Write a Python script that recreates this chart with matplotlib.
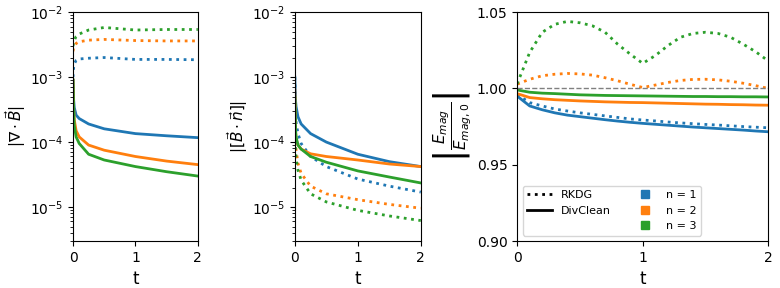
import matplotlib
matplotlib.use("Agg")
import matplotlib.pyplot as plt
from matplotlib.lines import Line2D

# time samples
t_log = [0.0, 0.01, 0.02, 0.05, 0.1, 0.25, 0.5, 1.0, 1.5, 2.0]
t_e = [0.0, 0.1, 0.2, 0.3, 0.4, 0.5, 0.6, 0.7, 0.8, 0.9, 1.0,
       1.1, 1.2, 1.3, 1.4, 1.5, 1.6, 1.7, 1.8, 1.9, 2.0]

# |div B|
div_rkdg = [
    [1.0e-3, 1.4e-3, 1.6e-3, 1.8e-3, 1.9e-3, 1.95e-3, 2.0e-3, 1.87e-3, 1.87e-3, 1.85e-3],
    [2.5e-3, 2.8e-3, 3.0e-3, 3.3e-3, 3.5e-3, 3.7e-3, 3.8e-3, 3.65e-3, 3.6e-3, 3.6e-3],
    [3.0e-3, 3.4e-3, 3.7e-3, 4.2e-3, 4.6e-3, 5.3e-3, 5.8e-3, 5.3e-3, 5.4e-3, 5.4e-3],
]
div_clean = [
    [9e-4, 4.5e-4, 3.4e-4, 2.6e-4, 2.3e-4, 1.9e-4, 1.6e-4, 1.35e-4, 1.25e-4, 1.17e-4],
    [9e-4, 3.5e-4, 2.2e-4, 1.5e-4, 1.2e-4, 9e-5, 7.5e-5, 6e-5, 5.1e-5, 4.5e-5],
    [9e-4, 3e-4, 1.8e-4, 1.2e-4, 9.5e-5, 6.5e-5, 5.3e-5, 4.2e-5, 3.5e-5, 3.0e-5],
]

# |[B.n]|
jump_rkdg = [
    [1.0e-3, 3e-4, 2e-4, 1.35e-4, 9.5e-5, 6.0e-5, 4.2e-5, 2.7e-5, 2.1e-5, 1.7e-5],
    [5e-4, 1.1e-4, 7.5e-5, 4.7e-5, 3.3e-5, 2.1e-5, 1.6e-5, 1.3e-5, 1.1e-5, 9.6e-6],
    [4e-4, 8e-5, 5.5e-5, 3.7e-5, 2.6e-5, 1.6e-5, 1.2e-5, 8.9e-6, 7.3e-6, 6.2e-6],
]
jump_clean = [
    [1.0e-3, 4.5e-4, 3.5e-4, 2.45e-4, 1.9e-4, 1.35e-4, 1.0e-4, 6.5e-5, 5.0e-5, 4.2e-5],
    [6.3e-4, 1.5e-4, 1.1e-4, 9e-5, 7.8e-5, 6.6e-5, 6.0e-5, 5.3e-5, 4.6e-5, 4.2e-5],
    [5e-4, 1.6e-4, 1.2e-4, 9e-5, 7.8e-5, 6.0e-5, 4.9e-5, 3.6e-5, 2.9e-5, 2.35e-5],
]

# E_mag / E_mag,0
emag_rkdg = [
    [0.996, 0.9907, 0.9885, 0.9865, 0.9852, 0.984, 0.983, 0.982, 0.981, 0.980, 0.9793,
     0.9787, 0.978, 0.9774, 0.9769, 0.9764, 0.976, 0.9755, 0.975, 0.9746, 0.9742],
    [1.0028, 1.006, 1.0083, 1.0093, 1.0098, 1.0095, 1.0087, 1.007, 1.005, 1.0027, 1.0006,
     1.0022, 1.0039, 1.0052, 1.0059, 1.006, 1.0056, 1.0047, 1.0034, 1.0018, 1.0],
    [1.003, 1.0236, 1.0368, 1.042, 1.0439, 1.043, 1.041, 1.0368, 1.029, 1.0225, 1.0164,
     1.0215, 1.028, 1.0335, 1.036, 1.0368, 1.036, 1.0335, 1.029, 1.024, 1.018],
]
emag_clean = [
    [0.995, 0.9885, 0.986, 0.984, 0.9825, 0.9815, 0.9805, 0.9795, 0.9786, 0.9778, 0.9771,
     0.9765, 0.9759, 0.9753, 0.9747, 0.9742, 0.9737, 0.9732, 0.9727, 0.9721, 0.9716],
    [0.9966, 0.994, 0.9932, 0.9926, 0.9922, 0.9918, 0.9915, 0.9912, 0.991, 0.9908, 0.9907,
     0.9905, 0.9903, 0.9901, 0.9899, 0.9897, 0.9896, 0.9894, 0.9893, 0.9891, 0.989],
    [0.999, 0.9975, 0.9969, 0.9966, 0.9962, 0.9958, 0.9956, 0.9954, 0.9953, 0.9952, 0.9951,
     0.995, 0.9949, 0.9948, 0.9947, 0.9947, 0.9946, 0.9946, 0.9945, 0.9945, 0.9944],
]

orders = ["n = 1", "n = 2", "n = 3"]
colors = ["#1f77b4", "#ff7f0e", "#2ca02c"]

plt.rcParams['font.size'] = 10

fig = plt.figure(figsize=(7.8, 2.88), dpi=100)
ax1 = fig.add_axes([0.0936, 0.163, 0.160, 0.795])
ax2 = fig.add_axes([0.378, 0.163, 0.1615, 0.795])
ax3 = fig.add_axes([0.663, 0.163, 0.322, 0.795])

lw = 2
for i in range(3):
    ax1.plot(t_log, div_rkdg[i], ':', color=colors[i], lw=lw)
    ax1.plot(t_log, div_clean[i], '-', color=colors[i], lw=lw)
    ax2.plot(t_log, jump_rkdg[i], ':', color=colors[i], lw=lw)
    ax2.plot(t_log, jump_clean[i], '-', color=colors[i], lw=lw)
    ax3.plot(t_e, emag_rkdg[i], ':', color=colors[i], lw=lw)
    ax3.plot(t_e, emag_clean[i], '-', color=colors[i], lw=lw)

ax3.axhline(1.0, color='gray', ls='--', lw=1)

for ax in (ax1, ax2):
    ax.set_yscale('log')
    ax.set_ylim(3e-6, 1e-2)
    ax.set_xlim(0, 2)
    ax.set_xticks([0, 1, 2])
    ax.set_xlabel('t', fontsize=12)

ax1.set_ylabel(r'$|\nabla \cdot \vec{B}|$', fontsize=11, labelpad=1)
ax2.set_ylabel(r'$|[\vec{B} \cdot \vec{n}]|$', fontsize=11, labelpad=1)

ax3.set_xlim(0, 2)
ax3.set_ylim(0.90, 1.05)
ax3.set_xticks([0, 1, 2])
ax3.set_yticks([0.90, 0.95, 1.00, 1.05])
ax3.set_xlabel('t', fontsize=12)
ax3.set_ylabel(r'$\left|\dfrac{E_{mag}}{E_{mag,0}}\right|$', fontsize=11, labelpad=2)

handles = [Line2D([], [], color='k', ls=':', lw=2),
           Line2D([], [], color='k', ls='-', lw=2),
           Line2D([], [], ls='', marker='', color='none')]
labels = ['RKDG', 'DivClean', '']
for i in range(3):
    handles.append(Line2D([], [], ls='', marker='s', color=colors[i], markersize=6))
    labels.append(orders[i])
ax3.legend(handles, labels, ncol=2, loc='lower left', fontsize=8,
           handlelength=2.2, columnspacing=2.0)

fig.savefig('out.png', dpi=100)
